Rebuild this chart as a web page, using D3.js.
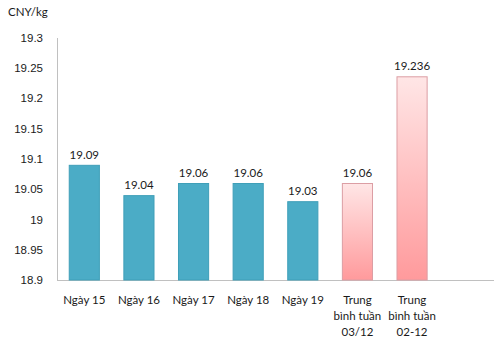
<!DOCTYPE html>
<html>
<head>
<meta charset="utf-8">
<script src="https://cdn.jsdelivr.net/npm/d3@7"></script>
<style>
  html, body { margin: 0; padding: 0; background: #fff; }
  svg { display: block; font-family: Lato, "Open Sans", sans-serif; }
</style>
</head>
<body>
<div id="chart"></div>
<script>
// Giá CNY/kg theo ngày + trung bình tuần

const categories = ["Ngày 15", "Ngày 16", "Ngày 17", "Ngày 18", "Ngày 19",
                    "Trung\nbình tuần\n03/12", "Trung\nbình tuần\n02-12"];
const prices = [19.09, 19.04, 19.06, 19.06, 19.03, 19.06, 19.236];
const isAverage = [false, false, false, false, false, true, true];
const yTicks = [18.9, 18.95, 19, 19.05, 19.1, 19.15, 19.2, 19.25, 19.3];
const unitLabel = "CNY/kg";

const data = categories.map((c, i) => ({ cat: c, value: prices[i], avg: isAverage[i] }));

const width = 500, height = 353;
const margin = { top: 37.5, right: 6, bottom: 73, left: 57 };

const svg = d3.select("#chart")
  .append("svg")
  .attr("width", width)
  .attr("height", height);

const defs = svg.append("defs");
const grad = defs.append("linearGradient")
  .attr("id", "pinkGrad")
  .attr("x1", 0).attr("y1", 0).attr("x2", 0).attr("y2", 1);
grad.append("stop").attr("offset", "0%").attr("stop-color", "#ffe6e6");
grad.append("stop").attr("offset", "100%").attr("stop-color", "#ff9a9c");

// one empty slot on the right, like the original sheet
const x = d3.scaleBand()
  .domain(categories.concat([""]))
  .range([margin.left, width - margin.right])
  .paddingInner(0.43)
  .paddingOuter(0.215);

const y = d3.scaleLinear()
  .domain([18.9, 19.3])
  .range([height - margin.bottom, margin.top]);

// Axes
const yAxis = svg.append("g")
  .attr("transform", `translate(${margin.left},0)`)
  .call(d3.axisLeft(y).tickValues(yTicks).tickSize(0).tickPadding(14).tickFormat(d3.format("~g")));
yAxis.select(".domain").attr("stroke", "#c0c0c0");
yAxis.selectAll("text")
  .style("font-size", "11.5px")
  .attr("fill", "#1a1a1a");

svg.append("line")
  .attr("x1", margin.left)
  .attr("x2", width - margin.right)
  .attr("y1", y(18.9) + 0.5)
  .attr("y2", y(18.9) + 0.5)
  .attr("stroke", "#c0c0c0");

// Bars
svg.selectAll("rect.bar")
  .data(data)
  .enter()
  .append("rect")
  .attr("class", "bar")
  .attr("x", d => x(d.cat) + 0.5)
  .attr("y", d => y(d.value) + 0.5)
  .attr("width", x.bandwidth() - 1)
  .attr("height", d => y(18.9) - y(d.value) - 0.5)
  .attr("fill", d => d.avg ? "url(#pinkGrad)" : "#4bacc6")
  .attr("stroke", d => d.avg ? "#dc9ea4" : "#3f9fb8")
  .attr("stroke-width", 1);

// Value labels
svg.selectAll("text.val")
  .data(data)
  .enter()
  .append("text")
  .attr("class", "val")
  .attr("x", d => x(d.cat) + x.bandwidth() / 2)
  .attr("y", d => y(d.value) - 6)
  .attr("text-anchor", "middle")
  .style("font-size", "11.5px")
  .attr("fill", "#1a1a1a")
  .text(d => d.value);

// Category labels (multi-line)
const catLab = svg.selectAll("text.cat")
  .data(data)
  .enter()
  .append("text")
  .attr("class", "cat")
  .attr("text-anchor", "middle")
  .style("font-size", "11.5px")
  .attr("fill", "#1a1a1a");

catLab.each(function (d) {
  const t = d3.select(this);
  d.cat.split("\n").forEach((line, i) => {
    t.append("tspan")
      .attr("x", x(d.cat) + x.bandwidth() / 2)
      .attr("y", 304 + i * 16)
      .text(line);
  });
});

// Unit title
svg.append("text")
  .attr("x", 8)
  .attr("y", 16)
  .style("font-size", "11.5px")
  .attr("fill", "#1a1a1a")
  .text(unitLabel);
</script>
</body>
</html>
